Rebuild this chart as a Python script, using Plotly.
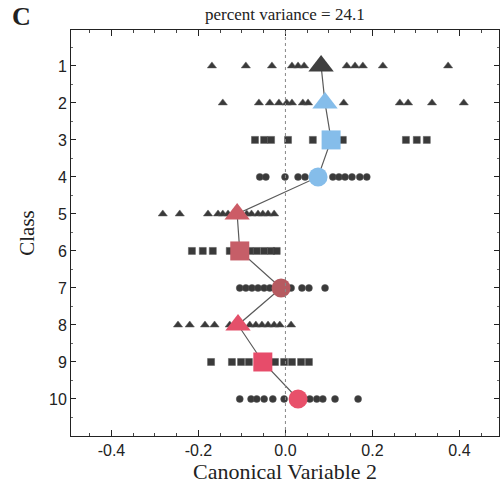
import plotly.graph_objects as go

classes = [1, 2, 3, 4, 5, 6, 7, 8, 9, 10]
symbols = ["triangle-up", "triangle-up", "square", "circle",
           "triangle-up", "square", "circle",
           "triangle-up", "square", "circle"]
mean_colors = ["#3f3f3f", "#85bdea", "#85bdea", "#85bdea",
               "#cc5c66", "#c65e68", "#b65a60",
               "#e4506a", "#e74c6a", "#e8506a"]

individual_values = [
    [-0.169, -0.091, -0.031, 0.015, 0.029, 0.043, 0.141, 0.160, 0.178, 0.224, 0.374],
    [-0.144, -0.061, -0.036, -0.015, 0.003, 0.015, 0.040, 0.052, 0.134, 0.263, 0.282, 0.337, 0.410],
    [-0.070, -0.049, -0.033, 0.006, 0.063, 0.132, 0.277, 0.302, 0.325],
    [-0.059, -0.045, -0.001, 0.029, 0.045, 0.109, 0.123, 0.137, 0.153, 0.171, 0.187],
    [-0.282, -0.243, -0.178, -0.155, -0.144, -0.132, -0.089, -0.078, -0.063, -0.052, -0.040, -0.026],
    [-0.215, -0.190, -0.167, -0.128, -0.082, -0.066, -0.049, -0.033, -0.020],
    [-0.105, -0.091, -0.077, -0.063, -0.049, -0.036, 0.013, 0.038, 0.054, 0.091],
    [-0.247, -0.220, -0.185, -0.163, -0.128, -0.082, -0.068, -0.054, -0.040, -0.026, -0.013, 0.013],
    [-0.171, -0.123, -0.102, -0.084, -0.024, -0.003, 0.015, 0.036, 0.054],
    [-0.105, -0.079, -0.066, -0.049, -0.029, -0.003, 0.056, 0.072, 0.086, 0.114, 0.167],
]
class_means = [0.082, 0.091, 0.105, 0.075, -0.111, -0.105, -0.010, -0.109, -0.052, 0.029]

x_ticks = [-0.4, -0.2, 0.0, 0.2, 0.4]
x_tick_labels = ["-0.4", "-0.2", "0.0", "0.2", "0.4"]

SERIF = "Liberation Serif, Times New Roman, serif"

fig = go.Figure()

# individual points
for c, sym, vals in zip(classes, symbols, individual_values):
    fig.add_trace(go.Scatter(
        x=vals, y=[c] * len(vals), mode="markers",
        marker=dict(symbol=sym, size=7 if sym != "triangle-up" else 8,
                    color="#3a3a3a", opacity=1, line=dict(width=0.5, color="#555555")),
        showlegend=False, hoverinfo="skip"))

# connecting line of means
fig.add_trace(go.Scatter(
    x=class_means, y=classes, mode="lines",
    line=dict(color="#5a5a5a", width=1.2),
    showlegend=False, hoverinfo="skip"))

# mean markers
fig.add_trace(go.Scatter(
    x=class_means, y=classes, mode="markers",
    marker=dict(symbol=symbols, size=[22, 22, 19, 19, 22, 19, 19, 22, 19, 19],
                color=mean_colors, opacity=1, line=dict(width=0)),
    showlegend=False, hoverinfo="skip"))

fig.add_vline(x=0, line=dict(color="#888888", width=1, dash="dot"))

fig.update_layout(
    width=503, height=500,
    margin=dict(l=71, r=4, t=30, b=64),
    plot_bgcolor="white", paper_bgcolor="white",
    font=dict(family="Liberation Sans, Arial, sans-serif", color="#222222"),
    xaxis=dict(
        range=[-0.493, 0.491], tickvals=x_ticks, ticktext=x_tick_labels,
        ticks="inside", ticklen=6, tickcolor="#222", showline=True,
        linecolor="#222", linewidth=1, mirror="ticks", showgrid=False,
        zeroline=False, tickfont=dict(size=16), automargin=False,
        minor=dict(dtick=0.05, ticks="inside", ticklen=3, tickcolor="#444"),
        title=dict(text="Canonical Variable 2", font=dict(family=SERIF, size=22),
                   standoff=4),
    ),
    yaxis=dict(
        range=[11, 0.03], tickvals=classes, ticktext=[str(c) for c in classes],
        ticks="inside", ticklen=5, tickcolor="#222", showline=True,
        linecolor="#222", linewidth=1, mirror="ticks", showgrid=False,
        zeroline=False, tickfont=dict(size=16), automargin=False,
        minor=dict(dtick=0.5, ticks="inside", ticklen=2, tickcolor="#666"),
        title=dict(text="Class", font=dict(family=SERIF, size=21), standoff=8),
    ),
    annotations=[
        dict(text="percent variance = 24.1", x=0.5, xref="paper", y=1.0, yref="paper",
             yanchor="bottom", yshift=4, showarrow=False,
             font=dict(family=SERIF, size=17)),
        dict(text="<b>C</b>", x=-0.142, xref="paper", xanchor="left",
             y=1.074, yref="paper", yanchor="top", showarrow=False,
             font=dict(family=SERIF, size=26)),
    ],
)

fig.write_html("out.html", config={"displayModeBar": False},
               post_script="document.body.style.margin='0px';document.body.style.overflow='hidden';")
